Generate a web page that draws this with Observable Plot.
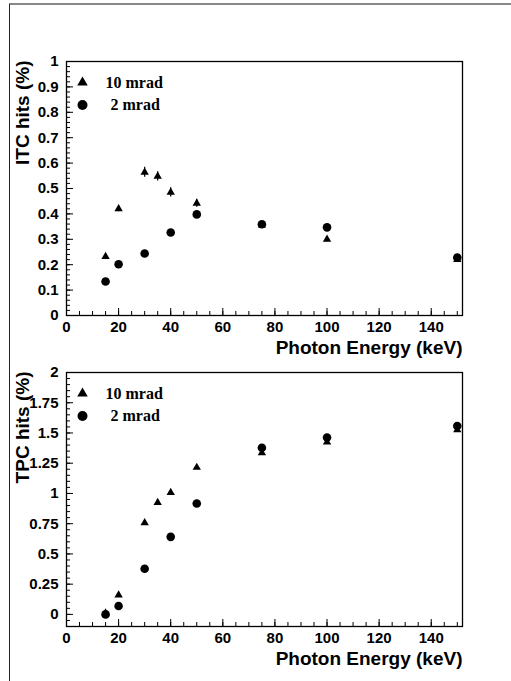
<!DOCTYPE html>
<html>
<head>
<meta charset="utf-8">
<script src="https://cdn.jsdelivr.net/npm/d3@7"></script>
<script src="https://cdn.jsdelivr.net/npm/@observablehq/plot@0.6"></script>
<style>
  html, body { margin: 0; padding: 0; background: #fff; }
  #wrap { position: relative; width: 511px; height: 681px; overflow: hidden; }
  #frame { position: absolute; left: 9px; top: 3px; right: -5px; bottom: -5px;
           border-left: 1.5px solid #222; border-top: 2px solid #888; }
  #wrap svg { position: absolute; left: 0; }
</style>
</head>
<body>
<div id="wrap"><div id="frame"></div></div>
<script>
// ---- data ----
const energy10 = [15, 20, 30, 35, 40, 50, 75, 100, 150];
const energy2 = [15, 20, 30, 40, 50, 75, 100, 150];
const itc10 = [0.232, 0.42, 0.564, 0.548, 0.485, 0.442, 0.356, 0.30, 0.22];
const itc10err = [0.008, 0.012, 0.02, 0.018, 0.018, 0.016, 0.01, 0.01, 0.01];
const itc2 = [0.134, 0.202, 0.244, 0.327, 0.398, 0.359, 0.347, 0.228];
const tpc10 = [0.01, 0.16, 0.757, 0.925, 1.008, 1.215, 1.335, 1.425, 1.525];
const tpc2 = [0.0, 0.069, 0.377, 0.641, 0.917, 1.378, 1.462, 1.558];
const seriesLabels = ["10 mrad", "2 mrad"];
const xTitle = "Photon Energy (keV)";
const itcTitle = "ITC hits (%)";
const tpcTitle = "TPC hits (%)";
const xMajor = [0, 20, 40, 60, 80, 100, 120, 140];
const xMinor = d3.range(0, 151, 5);
const itcMajor = d3.range(0, 11).map(i => i / 10);
const itcMinor = d3.range(0, 51).map(i => i / 50);
const tpcMajor = d3.range(0, 9).map(i => i / 4);
const tpcMinor = d3.range(-2, 41).map(i => i / 20);

const sans = "'Liberation Sans', Arial, Helvetica, sans-serif";
const serif = "'Liberation Serif', 'Times New Roman', serif";

function panel({y10, y2, err10, yDomain, yMajor, yMinor, yTitle, height, mt, mb}) {
  const d10 = energy10.map((e, i) => ({x: e, y: y10[i], e: err10 ? err10[i] : 0}));
  const d2 = energy2.map((e, i) => ({x: e, y: y2[i]}));
  return Plot.plot({
    width: 511, height,
    marginLeft: 66, marginRight: 49, marginTop: mt, marginBottom: mb,
    style: {fontFamily: sans, background: "transparent", overflow: "visible"},
    x: {domain: [0, 152]},
    y: {domain: yDomain},
    marks: [
      Plot.frame({stroke: "#000", strokeWidth: 1.3}),
      Plot.axisX({ticks: xMinor, tickSize: -4, tickFormat: () => "", label: null}),
      Plot.axisX({ticks: xMajor, tickSize: -7, tickPadding: 13, fontSize: 15, fontWeight: "bold", fill: "#000", label: null}),
      Plot.axisY({ticks: yMinor, tickSize: -4, tickFormat: () => "", label: null}),
      Plot.axisY({ticks: yMajor, tickSize: -7, tickPadding: 15, fontSize: 15, fontWeight: "bold", fill: "#000", label: null, tickFormat: d3.format("")}),
      Plot.text([xTitle], {frameAnchor: "bottom-right", dy: 32, text: d => d, textAnchor: "end", lineAnchor: "middle", fontSize: 19, fontWeight: "bold", fill: "#000"}),
      Plot.text([yTitle], {frameAnchor: "top-left", dx: -44, dy: -1, rotate: -90, text: d => d, textAnchor: "end", lineAnchor: "middle", fontSize: 19, fontWeight: "bold", fill: "#000"}),
      Plot.ruleX(d10, {x: "x", y1: d => d.y - d.e, y2: d => d.y + d.e, stroke: "#000", strokeWidth: 1.2}),
      Plot.dot(d2, {x: "x", y: "y", r: 4.3, symbol: "circle", fill: "#000", stroke: "none"}),
      Plot.dot(d10, {x: "x", y: "y", r: 3.1, symbol: "triangle", fill: "#000", stroke: "none"}),
      // legend
      Plot.dot([seriesLabels[0]], {frameAnchor: "top-left", dx: 16, dy: 21, r: 3.9, symbol: "triangle", fill: "#000", stroke: "none"}),
      Plot.dot([seriesLabels[1]], {frameAnchor: "top-left", dx: 16, dy: 43.5, r: 5, symbol: "circle", fill: "#000", stroke: "none"}),
      Plot.text([seriesLabels[0]], {frameAnchor: "top-left", dx: 39, dy: 21, text: d => d, textAnchor: "start", lineAnchor: "middle", fontFamily: serif, fontWeight: "bold", fontSize: 16, fill: "#000"}),
      Plot.text([seriesLabels[1]], {frameAnchor: "top-left", dx: 44, dy: 43.5, text: d => d, textAnchor: "start", lineAnchor: "middle", fontFamily: serif, fontWeight: "bold", fontSize: 16, fill: "#000"})
    ]
  });
}

const wrap = document.getElementById("wrap");
const topPanel = panel({y10: itc10, y2: itc2, err10: itc10err, yDomain: [0, 1], yMajor: itcMajor, yMinor: itcMinor, yTitle: itcTitle, height: 360, mt: 61, mb: 45});
topPanel.style.top = "0px";
wrap.appendChild(topPanel);
const botPanel = panel({y10: tpc10, y2: tpc2, err10: null, yDomain: [-0.1, 2], yMajor: tpcMajor, yMinor: tpcMinor, yTitle: tpcTitle, height: 321, mt: 12, mb: 55});
botPanel.style.top = "360px";
wrap.appendChild(botPanel);
</script>
</body>
</html>
